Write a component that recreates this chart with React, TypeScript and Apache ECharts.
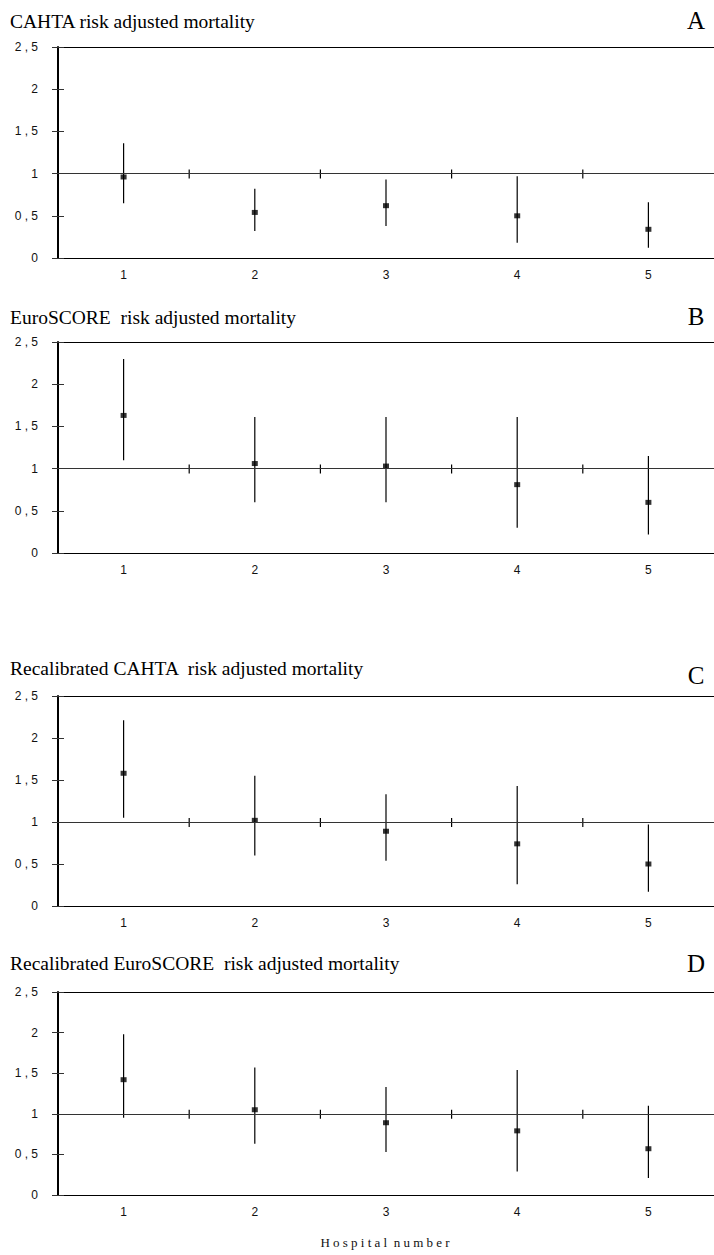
import React, { useEffect, useRef } from "react";
import * as echarts from "echarts";

// ---- data ----
const hospitals = ["1", "2", "3", "4", "5"];
const yTickLabels = ["0", "0 , 5", "1", "1 , 5", "2", "2 , 5"];

const panelTitles = [
  "CAHTA risk adjusted mortality",
  "EuroSCORE  risk adjusted mortality",
  "Recalibrated CAHTA  risk adjusted mortality",
  "Recalibrated EuroSCORE  risk adjusted mortality",
];
const panelLetters = ["A", "B", "C", "D"];
const xAxisTitle = "H o s p i t a l  n u m b e r";

const cahtaEst = [0.96, 0.54, 0.62, 0.5, 0.34];
const cahtaLow = [0.65, 0.32, 0.38, 0.18, 0.12];
const cahtaHigh = [1.36, 0.82, 0.93, 0.97, 0.66];

const euroEst = [1.63, 1.06, 1.03, 0.81, 0.6];
const euroLow = [1.1, 0.6, 0.6, 0.3, 0.22];
const euroHigh = [2.3, 1.61, 1.61, 1.61, 1.15];

const recalCahtaEst = [1.58, 1.02, 0.89, 0.74, 0.5];
const recalCahtaLow = [1.05, 0.6, 0.54, 0.26, 0.17];
const recalCahtaHigh = [2.21, 1.55, 1.33, 1.43, 0.97];

const recalEuroEst = [1.42, 1.05, 0.89, 0.79, 0.57];
const recalEuroLow = [0.95, 0.63, 0.53, 0.29, 0.21];
const recalEuroHigh = [1.98, 1.57, 1.33, 1.54, 1.1];

const reference = 1;

const panels = [
  { est: cahtaEst, low: cahtaLow, high: cahtaHigh },
  { est: euroEst, low: euroLow, high: euroHigh },
  { est: recalCahtaEst, low: recalCahtaLow, high: recalCahtaHigh },
  { est: recalEuroEst, low: recalEuroLow, high: recalEuroHigh },
];

// ---- layout ----
const gridTops = [47, 342, 696, 992];
const gridHeights = [211, 211, 210, 203];
const titleYs = [21, 317, 668, 963];
const letterYs = [20, 316, 675, 963];

const SANS = "'Liberation Sans', Arial, sans-serif";
const SERIF = "'Liberation Serif', 'Times New Roman', serif";

export default function App() {
  const ref = useRef<HTMLDivElement>(null);

  useEffect(() => {
    document.body.style.margin = "0";
    const chart = echarts.init(ref.current!, undefined, { renderer: "svg" });

    const grid: any[] = [];
    const xAxis: any[] = [];
    const yAxis: any[] = [];
    const series: any[] = [];
    const graphic: any[] = [];

    panels.forEach((p, i) => {
      grid.push({
        left: 58,
        width: 658,
        top: gridTops[i],
        height: gridHeights[i],
        show: false,
      });
      // bottom axis (labels + bottom frame line)
      xAxis.push({
        type: "category",
        gridIndex: i,
        position: "bottom",
        data: hospitals,
        boundaryGap: true,
        axisLine: { show: true, onZero: false, lineStyle: { color: "#000", width: 1 } },
        axisTick: { show: false },
        splitLine: { show: false },
        axisLabel: {
          show: true,
          margin: 11,
          fontSize: 12,
          color: "#111",
          fontFamily: SANS,
        },
      });
      // top frame line
      xAxis.push({
        type: "category",
        gridIndex: i,
        position: "top",
        data: hospitals,
        boundaryGap: true,
        axisLine: { show: true, onZero: false, lineStyle: { color: "#000", width: 1 } },
        axisTick: { show: false },
        splitLine: { show: false },
        axisLabel: { show: false },
      });
      const yBase = {
        type: "value",
        gridIndex: i,
        position: "left",
        min: 0,
        max: 2.5,
        interval: 0.5,
        splitLine: { show: false },
      };
      yAxis.push({
        ...yBase,
        axisLine: { show: true, onZero: false, lineStyle: { color: "#000", width: 2 } },
        axisTick: { show: true, length: 6, lineStyle: { color: "#333", width: 1 } },
        axisLabel: {
          show: true,
          margin: 20,
          fontSize: 12,
          color: "#111",
          fontFamily: SANS,
          formatter: (v: number) => yTickLabels[Math.round(v / 0.5)],
        },
      });
      yAxis.push({
        ...yBase,
        axisLine: { show: false, onZero: false },
        axisTick: { show: true, inside: true, length: 6, lineStyle: { color: "#333", width: 1 } },
        axisLabel: { show: false },
      });

      // error bars
      series.push({
        type: "custom",
        xAxisIndex: i * 2,
        yAxisIndex: i * 2,
        z: 3,
        data: hospitals.map((h, k) => [k, p.low[k], p.high[k]]),
        renderItem: (params: any, api: any) => {
          const x = api.value(0);
          const a = api.coord([x, api.value(1)]);
          const b = api.coord([x, api.value(2)]);
          return {
            type: "line",
            shape: { x1: a[0], y1: a[1], x2: b[0], y2: b[1] },
            style: { stroke: "#000", lineWidth: 1.2 },
          };
        },
      });

      // tick marks on the reference line at category boundaries
      series.push({
        type: "custom",
        xAxisIndex: i * 2,
        yAxisIndex: i * 2,
        z: 3,
        data: hospitals.slice(0, hospitals.length - 1).map((h, k) => [k, reference]),
        renderItem: (params: any, api: any) => {
          const c = api.coord([api.value(0), api.value(1)]);
          const w = api.size([1, 0])[0];
          const x = c[0] + w / 2;
          return {
            type: "line",
            shape: { x1: x, y1: c[1] - 4, x2: x, y2: c[1] + 5 },
            style: { stroke: "#000", lineWidth: 1.2 },
          };
        },
      });

      // point estimates + reference line
      series.push({
        type: "scatter",
        xAxisIndex: i * 2,
        yAxisIndex: i * 2,
        z: 4,
        symbol: "rect",
        symbolSize: [6, 5],
        itemStyle: { color: "#000" },
        data: hospitals.map((h, k) => [k, p.est[k]]),
        markLine: {
          silent: true,
          symbol: ["none", "none"],
          label: { show: false },
          lineStyle: { color: "#333", width: 1, type: "solid" },
          data: [{ yAxis: reference }],
        },
      });

      graphic.push({
        type: "text",
        x: 10,
        y: titleYs[i],
        style: {
          text: panelTitles[i],
          fill: "#000",
          fontSize: 19.5,
          fontFamily: SERIF,
          textAlign: "left",
          textVerticalAlign: "middle",
        },
      });
      graphic.push({
        type: "text",
        x: 696,
        y: letterYs[i],
        style: {
          text: panelLetters[i],
          fill: "#000",
          fontSize: 25,
          fontFamily: SERIF,
          textAlign: "center",
          textVerticalAlign: "middle",
        },
      });
    });

    graphic.push({
      type: "text",
      x: 385,
      y: 1242,
      style: {
        text: xAxisTitle,
        fill: "#111",
        fontSize: 13,
        fontFamily: SERIF,
        textAlign: "center",
        textVerticalAlign: "middle",
      },
    });

    chart.setOption({
      animation: false,
      backgroundColor: "#fff",
      grid,
      xAxis,
      yAxis,
      series,
      graphic,
    });

    return () => chart.dispose();
  }, []);

  return (
    <div
      ref={ref}
      style={{ position: "absolute", left: 0, top: 0, width: 714, height: 1255 }}
    />
  );
}
